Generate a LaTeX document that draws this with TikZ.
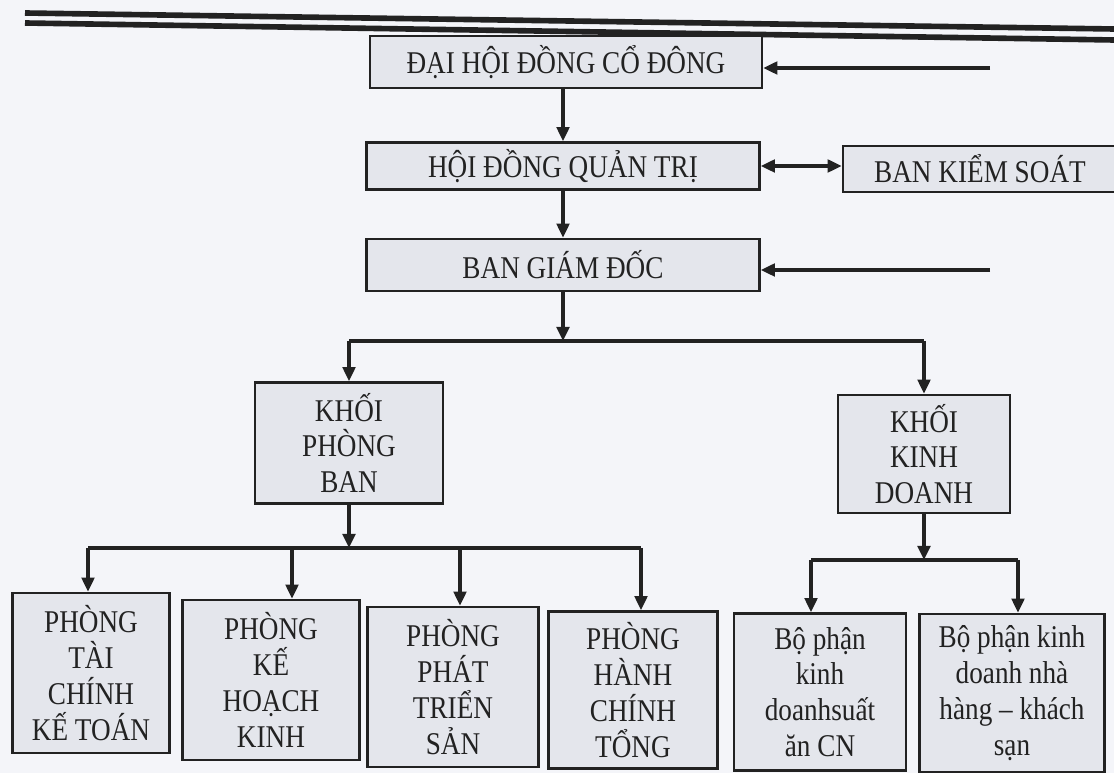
\documentclass[tikz,border=0pt]{standalone}
\usepackage{fontspec}
\setmainfont{Liberation Serif}[FakeStretch=0.86]
\usetikzlibrary{arrows.meta}
\definecolor{paper}{RGB}{244,245,249}
\definecolor{boxfill}{RGB}{228,230,236}
\definecolor{ink}{RGB}{34,34,34}
\tikzset{
  box/.style={draw=ink, line width=1.9pt, fill=boxfill, text=ink, align=center, inner sep=0pt,
    font=\fontsize{22.5}{25.5}\selectfont},
  sz/.style 2 args={minimum width=#1*0.025cm, minimum height=#2*0.025cm},
  arr/.style={draw=ink, line width=2.2pt, -{Triangle[length=10pt,width=9pt]}},
  dblarr/.style={arr, {Triangle[length=10pt,width=9pt]}-{Triangle[length=10pt,width=9pt]}},
  rail/.style={draw=ink, line width=2.2pt}
}
\begin{document}
\begin{tikzpicture}[x=0.025cm, y=-0.025cm]
\fill[paper] (0,0) rectangle (1114,773);
\useasboundingbox (0,0) rectangle (1114,773);

\draw[ink, line width=4pt] (25,13) -- (1114,29);
\draw[ink, line width=4pt] (25,23) -- (1114,40);

\node[box, sz={392}{52}] (dhcd) at (566,62) {ĐẠI HỘI ĐỒNG CỔ ĐÔNG};
\node[box, sz={393}{47}] (hdqt) at (563,166) {HỘI ĐỒNG QUẢN TRỊ};
\node[box, sz={274}{46}] (bks) at (980,169) {BAN KIỂM SOÁT};
\node[box, sz={393}{52}] (bgd) at (563,265) {BAN GIÁM ĐỐC};
\node[box, sz={188}{121}] (kpb) at (349,443) {KHỐI\\PHÒNG\\BAN};
\node[box, sz={172}{118}] (kkd) at (924,454) {KHỐI\\KINH\\DOANH};

\node[box, sz={157}{160}] (ptc) at (91,673) {PHÒNG\\TÀI\\CHÍNH\\KẾ TOÁN};
\node[box, sz={177}{160}] (pkh) at (271,680) {PHÒNG\\KẾ\\HOẠCH\\KINH};
\node[box, sz={171}{160}] (ppt) at (453,687) {PHÒNG\\PHÁT\\TRIỂN\\SẢN};
\node[box, sz={169}{157}] (phc) at (633,690) {PHÒNG\\HÀNH\\CHÍNH\\TỔNG};
\node[box, sz={172}{157}] (bpsa) at (820,692) {Bộ phận\\kinh\\doanhsuất\\ăn CN};
\node[box, sz={185}{158}] (bpnh) at (1012,693) {Bộ phận kinh\\doanh nhà\\hàng -- khách\\sạn};

\coordinate (in1) at (990,68);
\coordinate (in2) at (990,270);
\coordinate (j1) at (563,341);
\coordinate (j2) at (344,548);
\coordinate (j3) at (924,560);
\coordinate (t1) at (88,548);  \coordinate (t2) at (292,548);
\coordinate (t3) at (460,548); \coordinate (t4) at (641,548);
\coordinate (t5) at (811,560); \coordinate (t6) at (1018,560);

\draw[rail] (kpb.north |- j1) -- (kkd.north |- j1);
\draw[rail] (t1) -- (t4);
\draw[rail] (t5) -- (t6);

\path[every edge/.style={arr}]
(hdqt.north |- dhcd.south) edge (hdqt.north)
(hdqt.south) edge (bgd.north)
(in1) edge (in1 -| dhcd.east)
(in2) edge (in2 -| bgd.east)
(hdqt.east) edge[dblarr] (hdqt.east -| bks.west)
(bgd.south) edge (j1)
(kpb.north |- j1) edge (kpb.north)   (kkd.north |- j1) edge (kkd.north)
(kpb.south) edge (kpb.south |- j2)   (kkd.south) edge (j3)
(t1) edge (t1 |- ptc.north)   (t2) edge (t2 |- pkh.north)
(t3) edge (t3 |- ppt.north)   (t4) edge (t4 |- phc.north)
(t5) edge (t5 |- bpsa.north)  (t6) edge (t6 |- bpnh.north)
;
\end{tikzpicture}
\end{document}
